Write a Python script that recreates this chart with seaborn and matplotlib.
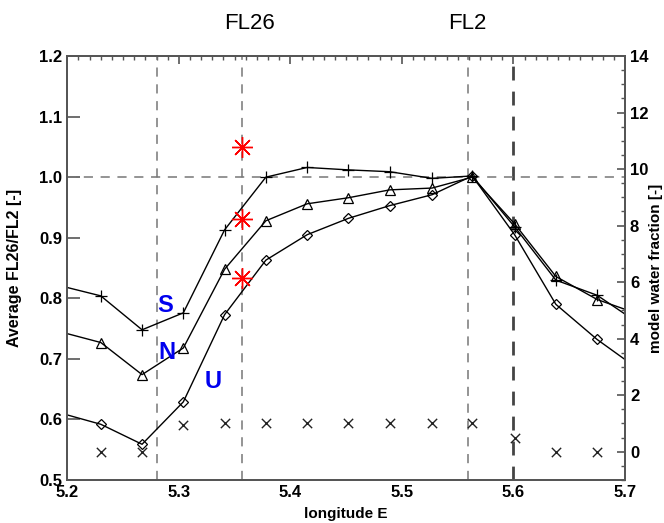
import numpy as np
import pandas as pd
import seaborn as sns
import matplotlib.pyplot as plt
from matplotlib.ticker import MultipleLocator

# longitude of the model points (first and last fall just outside the axes)
lon = [5.193, 5.230, 5.267, 5.304, 5.341, 5.378, 5.415, 5.452, 5.489,
       5.527, 5.563, 5.601, 5.638, 5.675, 5.712]

# average FL26/FL2 ratio per run
ratio_S = [0.821, 0.804, 0.748, 0.776, 0.913, 1.000, 1.016, 1.012, 1.009,
           0.998, 1.002, 0.918, 0.830, 0.805, 0.759]
ratio_N = [0.745, 0.727, 0.674, 0.718, 0.848, 0.928, 0.956, 0.966, 0.979,
           0.982, 1.000, 0.923, 0.836, 0.798, 0.774]
ratio_U = [0.611, 0.592, 0.559, 0.629, 0.773, 0.863, 0.905, 0.932, 0.953,
           0.971, 1.002, 0.905, 0.790, 0.732, 0.683]

# model water fraction (right axis)
water_lon = [5.230, 5.267, 5.304, 5.341, 5.378, 5.415, 5.452, 5.489,
             5.527, 5.563, 5.601, 5.638, 5.675]
water_frac = [0.0, 0.0, 0.95, 1.0, 1.0, 1.0, 1.0, 1.0, 1.0, 1.0, 0.5, 0.0, 0.0]

# observed ratios at FL26
obs_lon = [5.357, 5.357, 5.357]
obs_ratio = [1.049, 0.931, 0.833]

# reference lines
flight_lines = [5.28, 5.357, 5.559]
bold_line = 5.60

sns.set_style("white")
plt.rcParams['font.family'] = ['Liberation Sans', 'DejaVu Sans']
plt.rcParams['text.color'] = 'black'
plt.rcParams['axes.labelcolor'] = 'black'

fig = plt.figure(figsize=(6.64, 5.23), dpi=100)
ax = fig.add_axes([0.1014, 0.0822, 0.8399, 0.8107])

for x in flight_lines:
    ax.axvline(x, color="#777777", lw=1.1, ls=(0, (6, 5)), zorder=1)
ax.axvline(bold_line, color="#444444", lw=2.0, ls=(0, (5, 4)), zorder=1)
ax.axhline(1.0, color="#777777", lw=1.1, ls=(0, (6, 5)), zorder=1)

line_kw = dict(color="black", lw=1.0, markeredgecolor="black",
               markeredgewidth=0.9, sort=False, zorder=3)
sns.lineplot(x=lon, y=ratio_S, marker="+", markersize=8, ax=ax, **line_kw)
sns.lineplot(x=lon, y=ratio_N, marker="^", markersize=7.5,
             markerfacecolor="none", ax=ax, **line_kw)
sns.lineplot(x=lon, y=ratio_U, marker="D", markersize=5.5,
             markerfacecolor="none", ax=ax, **line_kw)

ax.plot(obs_lon, obs_ratio, ls="none", marker=(8, 2, 0), markersize=15,
        markeredgecolor="red", markeredgewidth=1.0, zorder=4)

ax.set_xlim(5.2, 5.7)
ax.set_ylim(0.5, 1.2)
ax.xaxis.set_minor_locator(MultipleLocator(0.01))
ax.set_xticks([5.2, 5.3, 5.4, 5.5, 5.6, 5.7])
ax.set_xticklabels(["5.2", "5.3", "5.4", "5.5", "5.6", "5.7"])
ax.set_yticks(np.arange(0.5, 1.21, 0.1))
ax.set_yticklabels(["%.1f" % v for v in np.arange(0.5, 1.21, 0.1)])
ax.tick_params(axis="x", which="major", direction="in", length=6, width=1.2,
               top=True, colors="#555555", labelcolor="black", labelsize=12)
ax.tick_params(axis="x", which="minor", direction="in", length=3, width=1.0,
               top=True, colors="#555555")
ax.tick_params(axis="y", which="major", direction="in", length=9, width=1.2,
               right=False, colors="#555555", labelcolor="black", labelsize=12)
for lab in ax.get_xticklabels() + ax.get_yticklabels():
    lab.set_fontweight("bold")
for sp in ax.spines.values():
    sp.set_color("#555555")
    sp.set_linewidth(1.3)

ax.set_xlabel("longitude E", fontsize=11, fontweight="bold")
ax.xaxis.set_label_coords(0.5, -0.064)
ax.set_ylabel("Average FL26/FL2 [-]", fontsize=11.5, fontweight="bold")
ax.yaxis.set_label_coords(-0.081, 0.5)

ax2 = ax.twinx()
sns.scatterplot(x=water_lon, y=water_frac, marker="x", s=45, color="#222222",
                linewidth=1.0, ax=ax2, zorder=3)
ax2.set_ylim(-1, 14)
ax2.set_yticks(np.arange(0, 15, 2))
ax2.set_yticklabels([str(v) for v in range(0, 15, 2)])
ax2.yaxis.set_minor_locator(MultipleLocator(0.5))
ax2.tick_params(axis="y", which="major", direction="in", length=6, width=1.2,
                colors="#555555", labelcolor="black", labelsize=12)
ax2.tick_params(axis="y", which="minor", direction="in", length=3, width=1.0,
                colors="#555555")
for lab in ax2.get_yticklabels():
    lab.set_fontweight("bold")
for sp in ax2.spines.values():
    sp.set_color("#555555")
    sp.set_linewidth(1.3)
ax2.set_ylabel("model water fraction [-]", fontsize=11, fontweight="bold")
ax2.yaxis.set_label_coords(1.043, 0.5)

# run labels
ax.text(5.2876, 0.7875, "S", color="#0000ee", fontsize=17, fontweight="bold",
        ha="center", va="center")
ax.text(5.2891, 0.711, "N", color="#0000ee", fontsize=17, fontweight="bold",
        ha="center", va="center")
ax.text(5.3304, 0.662, "U", color="#0000ee", fontsize=17, fontweight="bold",
        ha="center", va="center")

fig.text(250 / 664, 1 - 23.3 / 523, "FL26", fontsize=16, ha="center", va="center")
fig.text(467.3 / 664, 1 - 23.3 / 523, "FL2", fontsize=16, ha="center", va="center")

fig.savefig("out.png", dpi=100)
